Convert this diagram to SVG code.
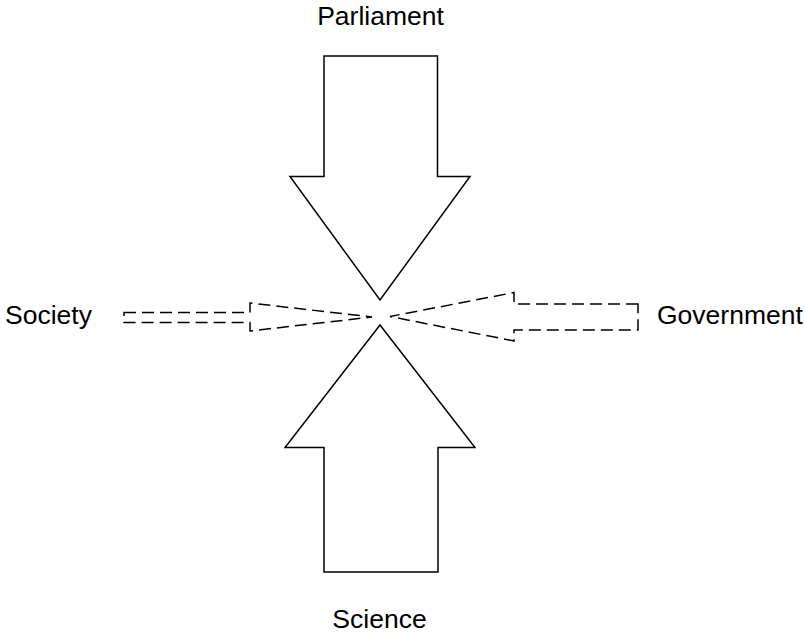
<svg xmlns="http://www.w3.org/2000/svg" width="806" height="635" viewBox="0 0 806 635">
  <style>
    .solid { fill: #ffffff; stroke: #000000; stroke-width: 1.5; stroke-linejoin: miter; }
    .dash { fill: #ffffff; stroke: #000000; stroke-width: 1.5; stroke-dasharray: 12 6; }
    .lbl { font-family: "Liberation Sans", Arial, Helvetica, sans-serif; font-size: 26.5px; fill: #000000; }
  </style>
  <rect width="806" height="635" fill="#ffffff"/>
  <g id="connectors">
    <polygon id="society-arrow" class="dash" points="124,312.5 250,312.5 250,303 372,317 250,331 250,322.5 124,322.5"/>
    <polygon id="government-arrow" class="dash" points="638,304 514,304 514,292.5 390,316.5 514,341 514,330 638,330"/>
  </g>
  <g id="parliament">
    <polygon class="solid" points="324,56 437.5,56 437.5,176.5 470,176.5 380,300 290,176.5 324,176.5"/>
    <text class="lbl" x="380.5" y="25" text-anchor="middle">Parliament</text>
  </g>
  <g id="science">
    <polygon class="solid" points="324,572 438,572 438,447.5 475,447.5 380,325 285,447.5 324,447.5"/>
    <text class="lbl" x="379.5" y="628" text-anchor="middle">Science</text>
  </g>
  <g id="society">
    <text class="lbl" x="5" y="324">Society</text>
  </g>
  <g id="government">
    <text class="lbl" x="657" y="324">Government</text>
  </g>
</svg>
